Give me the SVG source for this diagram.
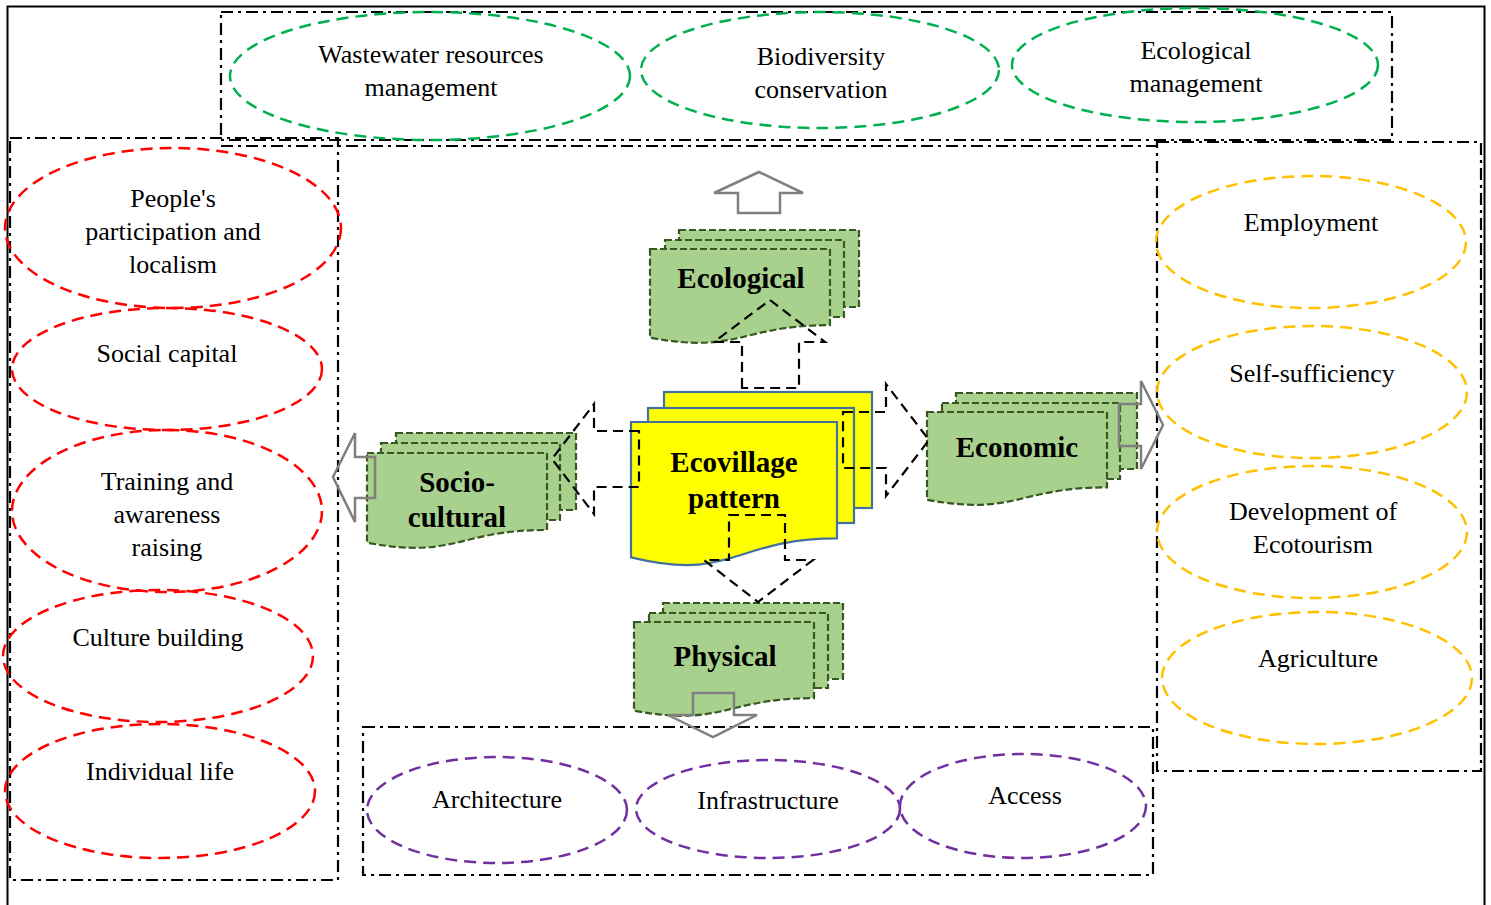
<svg xmlns="http://www.w3.org/2000/svg" width="1491" height="905" viewBox="0 0 1491 905">
<style>
.frame{fill:none;stroke:#000;stroke-width:2}
.box{fill:none;stroke:#000;stroke-width:2.2;stroke-dasharray:12 5 3 5}
.el{fill:none;stroke-width:2.5;stroke-dasharray:12 7}
.g{stroke:#00B050}.r{stroke:#FF0000}.o{stroke:#FFC000}.p{stroke:#7030A0}
.t{font-family:"Liberation Serif","Times New Roman",serif;font-size:26px;fill:#000;text-anchor:middle}
.doc{fill:#A9D18E;stroke:#385723;stroke-width:2.2;stroke-dasharray:7 3}
.ydoc{fill:#FFFF00;stroke:#41719C;stroke-width:2.2}
.bt{font-family:"Liberation Serif","Times New Roman",serif;font-size:29px;font-weight:bold;fill:#000;text-anchor:middle}
.da{fill:none;stroke:#000;stroke-width:2.2;stroke-dasharray:10 6}
.ga{fill:none;stroke:#7F7F7F;stroke-width:2.5}
</style>
<rect width="1491" height="905" fill="#fff"/>
<g id="frames">
<rect class="frame" x="7.5" y="6.5" width="1477" height="930"/>
<rect class="box" x="221" y="12" width="1171" height="128"/>
<rect class="box" x="10" y="138" width="328" height="742"/>
<path class="box" d="M221,146 H1157"/>
<rect class="box" x="1157" y="142" width="324" height="629"/>
<rect class="box" x="363" y="727" width="790" height="148"/>
</g>
<g id="ecological-items">
<g id="n-wastewater"><ellipse class="el g" cx="430" cy="76" rx="200" ry="64"/><text class="t" x="431" y="63">Wastewater resources</text><text class="t" x="431" y="96">management</text></g>
<g id="n-biodiversity"><ellipse class="el g" cx="820" cy="70" rx="179" ry="58"/><text class="t" x="821" y="65">Biodiversity</text><text class="t" x="821" y="98">conservation</text></g>
<g id="n-ecomanagement"><ellipse class="el g" cx="1195" cy="65" rx="183" ry="57"/><text class="t" x="1196" y="59">Ecological</text><text class="t" x="1196" y="92">management</text></g>
</g>
<g id="socio-items">
<g id="n-participation"><ellipse class="el r" cx="173" cy="228" rx="168" ry="80"/><text class="t" x="173" y="207">People's</text><text class="t" x="173" y="240">participation and</text><text class="t" x="173" y="273">localism</text></g>
<g id="n-socialcapital"><ellipse class="el r" cx="167" cy="369" rx="155" ry="61"/><text class="t" x="167" y="362">Social capital</text></g>
<g id="n-training"><ellipse class="el r" cx="167" cy="511" rx="155" ry="81"/><text class="t" x="167" y="490">Training and</text><text class="t" x="167" y="523">awareness</text><text class="t" x="167" y="556">raising</text></g>
<g id="n-culture"><ellipse class="el r" cx="158" cy="656" rx="155" ry="66"/><text class="t" x="158" y="646">Culture building</text></g>
<g id="n-individual"><ellipse class="el r" cx="160" cy="791" rx="155" ry="67"/><text class="t" x="160" y="780">Individual life</text></g>
</g>
<g id="economic-items">
<g id="n-employment"><ellipse class="el o" cx="1311" cy="242" rx="155" ry="66"/><text class="t" x="1311" y="231">Employment</text></g>
<g id="n-selfsufficiency"><ellipse class="el o" cx="1312" cy="392" rx="155" ry="66"/><text class="t" x="1312" y="382">Self-sufficiency</text></g>
<g id="n-ecotourism"><ellipse class="el o" cx="1312" cy="532" rx="155" ry="66"/><text class="t" x="1313" y="520">Development of</text><text class="t" x="1313" y="553">Ecotourism</text></g>
<g id="n-agriculture"><ellipse class="el o" cx="1317" cy="678" rx="155" ry="66"/><text class="t" x="1318" y="667">Agriculture</text></g>
</g>
<g id="physical-items">
<g id="n-architecture"><ellipse class="el p" cx="497" cy="810" rx="130" ry="53"/><text class="t" x="497" y="808">Architecture</text></g>
<g id="n-infrastructure"><ellipse class="el p" cx="768" cy="809" rx="132" ry="49"/><text class="t" x="768" y="809">Infrastructure</text></g>
<g id="n-access"><ellipse class="el p" cx="1023" cy="806" rx="123" ry="52"/><text class="t" x="1025" y="804">Access</text></g>
</g>
<g id="n-ecological-doc">
<rect class="doc" x="679" y="230" width="180" height="77"/>
<rect class="doc" x="665" y="240" width="179" height="77"/>
<path class="doc" d="M650,249 H830 V325.2 C740,325.2 740,354.2 650,337.7 Z"/>
<text class="bt" x="741" y="288">Ecological</text>
</g>
<g id="n-economic-doc">
<rect class="doc" x="956" y="393" width="181" height="76"/>
<rect class="doc" x="942" y="403" width="178" height="76"/>
<path class="doc" d="M927,412 H1107 V487.4 C1017,487.4 1017,516.1 927,499.8 Z"/>
<text class="bt" x="1017" y="457">Economic</text>
</g>
<g id="n-socio-doc">
<rect class="doc" x="396" y="433" width="180" height="77"/>
<rect class="doc" x="381" y="443" width="179" height="77"/>
<path class="doc" d="M367,453 H547 V530 C457,530 457,559.3 367,542.7 Z"/>
<text class="bt" x="457" y="492">Socio-</text>
<text class="bt" x="457" y="527">cultural</text>
</g>
<g id="n-physical-doc">
<rect class="doc" x="663" y="603" width="180" height="76"/>
<rect class="doc" x="649" y="613" width="179" height="75"/>
<path class="doc" d="M634,622 H814 V698.2 C724,698.2 724,727.2 634,710.7 Z"/>
<text class="bt" x="725" y="666">Physical</text>
</g>
<g id="n-ecovillage">
<rect class="ydoc" x="664" y="392" width="208" height="116"/>
<rect class="ydoc" x="648" y="408" width="206" height="115"/>
<path class="ydoc" d="M631,422 H837 V538.3 C734,538.3 734,582.5 631,557.4 Z"/>
<text class="bt" x="734" y="472">Ecovillage</text>
<text class="bt" x="734" y="508">pattern</text>
</g>
<g id="connectors">
<path class="da" d="M742,388 V342 H714 L770,300 L825,342 H799 V388 Z"/>
<path class="da" d="M729,515 H785 V560 H813 L758,602 L704,560 H729 Z"/>
<path class="da" d="M843,412 H886 V384 L929,440 L886,496 V468 H843 Z"/>
<path class="da" d="M639,431 H594 V404 L552,459 L594,514 V487 H639 Z"/>
<path class="ga" d="M738,213 V193 H714 L759,172 L803,193 H780 V213 Z"/>
<path class="ga" d="M375,457 H355 V433 L333,477 L355,522 V498 H375 Z"/>
<path class="ga" d="M1119,404 H1141 V381 L1163,425 L1141,469 V446 H1119 Z"/>
<path class="ga" d="M693,693 H734 V715 H757 L713,737 L668,715 H693 Z"/>
</g>
</svg>
